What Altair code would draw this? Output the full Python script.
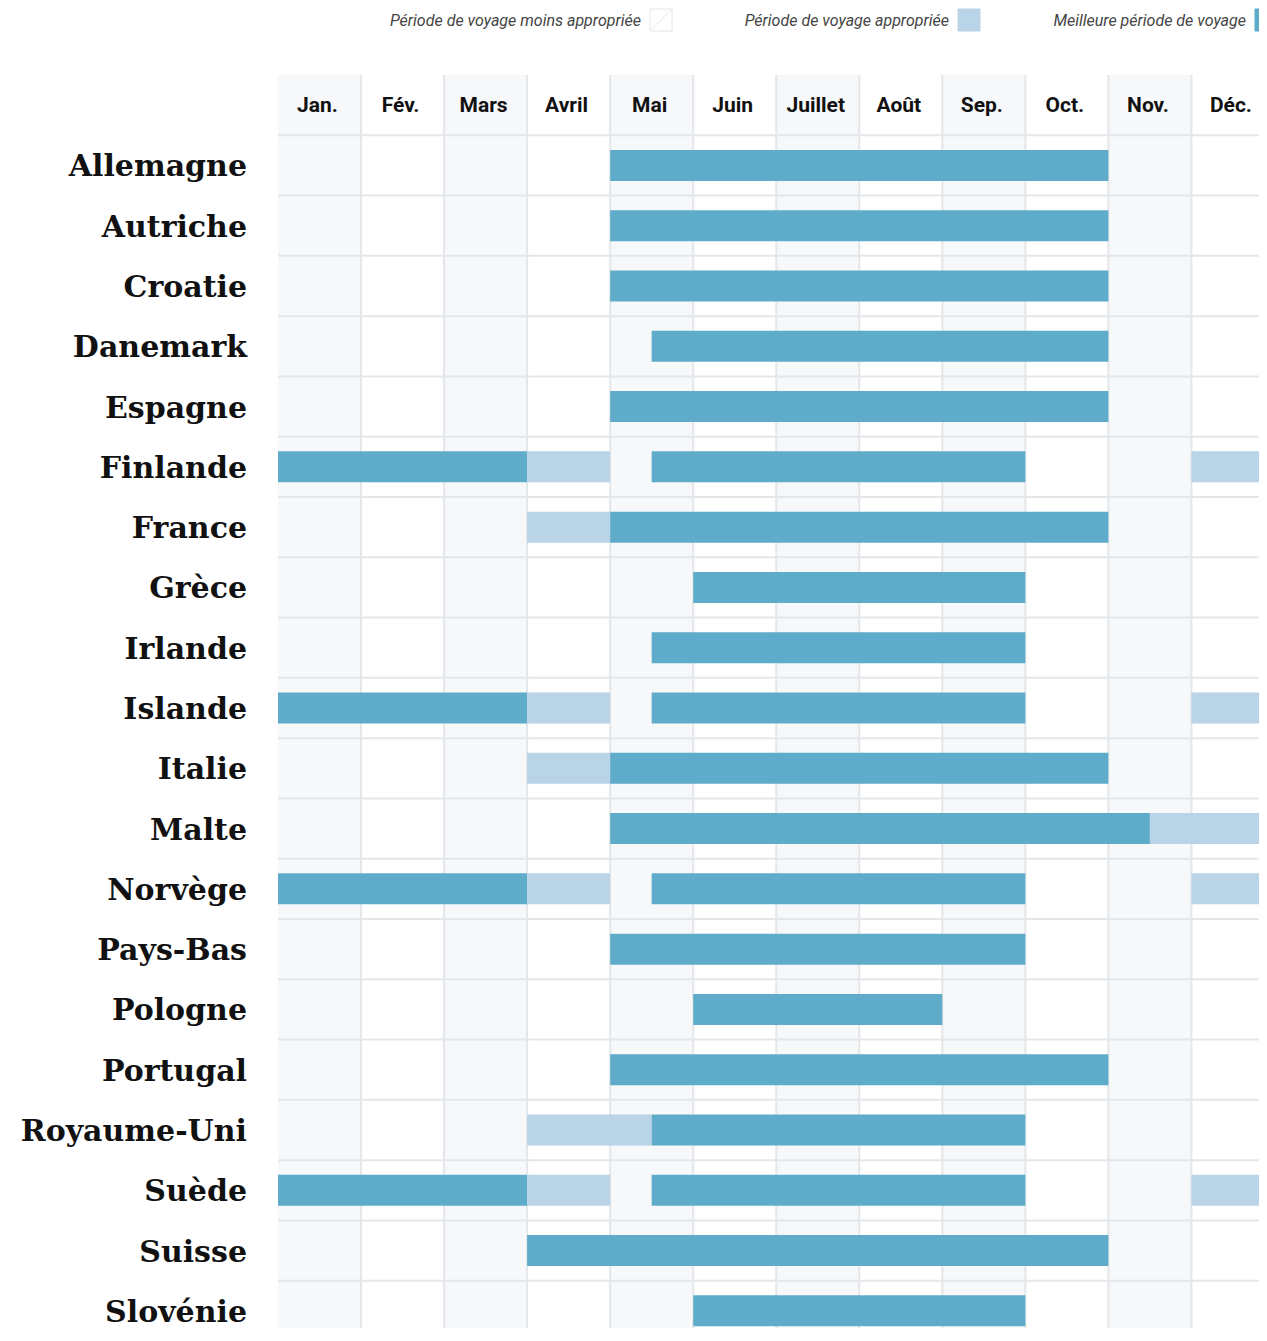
import altair as alt
import pandas as pd

months = ["Jan.", "Fév.", "Mars", "Avril", "Mai", "Juin", "Juillet", "Août", "Sep.", "Oct.", "Nov.", "Déc."]
countries = ["Allemagne", "Autriche", "Croatie", "Danemark", "Espagne", "Finlande", "France",
             "Grèce", "Irlande", "Islande", "Italie", "Malte", "Norvège", "Pays-Bas", "Pologne",
             "Portugal", "Royaume-Uni", "Suède", "Suisse", "Slovénie"]

# travel periods (in months from start of January)
seg_country = ["Allemagne", "Autriche", "Croatie", "Danemark", "Espagne",
               "Finlande", "Finlande", "Finlande", "Finlande",
               "France", "France", "Grèce", "Irlande",
               "Islande", "Islande", "Islande", "Islande",
               "Italie", "Italie", "Malte", "Malte",
               "Norvège", "Norvège", "Norvège", "Norvège",
               "Pays-Bas", "Pologne", "Portugal", "Royaume-Uni", "Royaume-Uni",
               "Suède", "Suède", "Suède", "Suède", "Suisse", "Slovénie"]
seg_start = [4, 4, 4, 4.5, 4,
             0, 3, 4.5, 11,
             3, 4, 5, 4.5,
             0, 3, 4.5, 11,
             3, 4, 4, 10.5,
             0, 3, 4.5, 11,
             4, 5, 4, 3, 4.5,
             0, 3, 4.5, 11, 3, 5]
seg_end = [10, 10, 10, 10, 10,
           3, 4, 9, 12,
           4, 10, 9, 9,
           3, 4, 9, 12,
           4, 10, 10.5, 12,
           3, 4, 9, 12,
           9, 8, 10, 4.5, 9,
           3, 4, 9, 12, 10, 9]
seg_kind = ["best", "best", "best", "best", "best",
            "best", "ok", "best", "ok",
            "ok", "best", "best", "best",
            "best", "ok", "best", "ok",
            "ok", "best", "best", "ok",
            "best", "ok", "best", "ok",
            "best", "best", "best", "ok", "best",
            "best", "ok", "best", "ok", "best", "best"]

legend_labels = ["Période de voyage moins appropriée", "Période de voyage appropriée", "Meilleure période de voyage"]

BEST = "#5eacc9"
OK = "#b8d4e6"
SHADE = "#f7f8fa"
GRID = "#e4e7ea"

NROWS = len(countries) + 1
MONTH_PX = 83.04
ROW_PX = 60.286
W = 981
H = 1253
XDOM = [0, W / MONTH_PX]
YDOM = [0, H / ROW_PX]

xs = alt.Scale(domain=XDOM, nice=False, zero=False)
ys = alt.Scale(domain=YDOM, nice=False, zero=False, reverse=True)

month_df = pd.DataFrame({"month": months, "i": list(range(12))})
country_df = pd.DataFrame({"country": countries, "i": list(range(len(countries)))})
seg_df = pd.DataFrame({"country": seg_country, "start": seg_start, "end": seg_end, "kind": seg_kind})
seg_df["row"] = seg_df["country"].map({c: i for i, c in enumerate(countries)})

shade = alt.Chart(month_df).transform_filter("datum.i % 2 == 0").transform_calculate(
    x2="datum.i + 1", y0="0", y1=str(NROWS)
).mark_rect(color=SHADE, clip=True).encode(
    x=alt.X("i:Q", scale=xs, axis=None),
    x2="x2:Q",
    y=alt.Y("y0:Q", scale=ys, axis=None),
    y2="y1:Q",
)

vgrid = alt.Chart(month_df).transform_filter("datum.i > 0").transform_calculate(
    y0="0", y1=str(NROWS)
).mark_rule(color=GRID, strokeWidth=2, clip=True).encode(
    x=alt.X("i:Q", scale=xs, axis=None),
    y=alt.Y("y0:Q", scale=ys, axis=None),
    y2="y1:Q",
)

hgrid = alt.Chart(country_df).transform_calculate(
    yy="datum.i + 1", x0="0", x1="12"
).mark_rule(color=GRID, strokeWidth=2, clip=True).encode(
    x=alt.X("x0:Q", scale=xs, axis=None),
    x2="x1:Q",
    y=alt.Y("yy:Q", scale=ys, axis=None),
)

bars = alt.Chart(seg_df).transform_calculate(
    y0="datum.row + 1.243", y1="datum.row + 1.757"
).mark_rect(clip=True).encode(
    x=alt.X("start:Q", scale=xs, axis=None),
    x2="end:Q",
    y=alt.Y("y0:Q", scale=ys, axis=None),
    y2="y1:Q",
    color=alt.Color("kind:N", scale=alt.Scale(domain=["ok", "best"], range=[OK, BEST]), legend=None),
)

header = alt.Chart(month_df).transform_calculate(
    xc="datum.i + 0.5", yc="0.5"
).mark_text(font="Roboto", fontWeight="bold", fontSize=21, color="#111111",
            align="center", baseline="middle", dx=-2, dy=1, clip=True).encode(
    x=alt.X("xc:Q", scale=xs, axis=None),
    y=alt.Y("yc:Q", scale=ys, axis=None),
    text="month:N",
)

labels = alt.Chart(country_df).transform_calculate(
    yc="datum.i + 1.5"
).mark_text(font="DejaVu Serif", fontWeight="bold", fontSize=30, color="#111111",
            align="right", baseline="middle", dy=2).encode(
    x=alt.value(-31),
    y=alt.Y("yc:Q", scale=ys, axis=None),
    text="country:N",
)

one = pd.DataFrame({"a": [0]})
leg_text_x = [363, 671, 968]
leg_sq_x = [372, 680, 977]
leg_colors = ["#ffffff", OK, BEST]
leg_layers = []
for lab, tx, sx, col in zip(legend_labels, leg_text_x, leg_sq_x, leg_colors):
    leg_layers.append(
        alt.Chart(one).mark_text(text=lab, font="Roboto", fontStyle="italic", fontSize=16,
                                 color="#444444", align="right", baseline="middle", dy=1).encode(
            x=alt.value(tx), y=alt.value(-55))
    )
    x2 = min(sx + 22, W)
    sq = alt.Chart(one).mark_rect(color=col, stroke="#e6e6e6" if col == "#ffffff" else col,
                                  strokeWidth=1).encode(
        x=alt.value(sx), x2=alt.value(x2), y=alt.value(-66), y2=alt.value(-44))
    leg_layers.append(sq)
leg_layers.append(
    alt.Chart(one).mark_rule(color="#e6e6e6", strokeWidth=1).encode(
        x=alt.value(373), x2=alt.value(393), y=alt.value(-45), y2=alt.value(-65))
)

chart = alt.layer(shade, vgrid, hgrid, bars, header, labels, *leg_layers).properties(
    width=W, height=H,
    padding={"left": 270, "top": 67, "right": 0, "bottom": 0},
    autosize=alt.AutoSizeParams(type="none"),
).configure_view(stroke=None)

chart.save("out.html", embed_options={"renderer": "svg", "actions": False})
